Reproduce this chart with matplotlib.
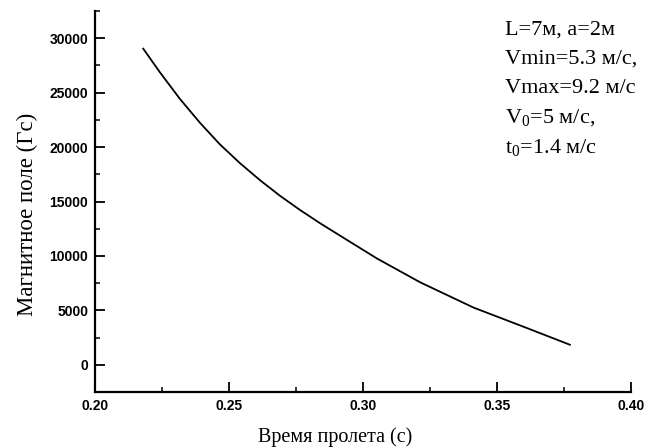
import numpy as np
import matplotlib
matplotlib.use("Agg")
import matplotlib.pyplot as plt
from matplotlib.ticker import MultipleLocator, FormatStrFormatter

# =========================
# DATA
# =========================
flight_time = [0.2180, 0.2243, 0.2317, 0.2392, 0.2466, 0.2541, 0.2616, 0.2690,
               0.2765, 0.2840, 0.2908, 0.3051, 0.3213, 0.3412, 0.3611, 0.3772]
field_gs = [29040, 26840, 24420, 22220, 20250, 18520, 16950, 15530,
            14220, 13000, 11960, 9780, 7580, 5260, 3380, 1840]

x_ticks = [0.20, 0.25, 0.30, 0.35, 0.40]
y_ticks = [0, 5000, 10000, 15000, 20000, 25000, 30000]

params_lines = [
    "L=7м, a=2м",
    "Vmin=5.3 м/с,",
    "Vmax=9.2 м/с",
    r"V$_\mathregular{0}$=5 м/с,",
    r"t$_\mathregular{0}$=1.4 м/с",
]

# =========================
# STYLE
# =========================
plt.rcParams["mathtext.fontset"] = "custom"
plt.rcParams["mathtext.rm"] = "Liberation Serif"
serif = ["Liberation Serif", "DejaVu Serif"]
sans = ["Liberation Sans", "DejaVu Sans"]

fig = plt.figure(figsize=(6.49, 4.48), dpi=100)
ax = fig.add_axes([0.1464, 0.125, 0.8259, 0.8504])

ax.plot(flight_time, field_gs, color="black", lw=1.3)

ax.set_xlim(0.20, 0.40)
ax.set_ylim(-2500, 32500)
ax.set_xticks(x_ticks)
ax.set_yticks(y_ticks)
ax.xaxis.set_minor_locator(MultipleLocator(0.025))
ax.yaxis.set_minor_locator(MultipleLocator(2500))
ax.xaxis.set_major_formatter(FormatStrFormatter("%.2f"))

for s in ["top", "right"]:
    ax.spines[s].set_visible(False)
for s in ["left", "bottom"]:
    ax.spines[s].set_linewidth(1.6)

ax.tick_params(which="major", direction="in", length=7, width=1.3, pad=5)
ax.tick_params(which="minor", direction="in", length=3.5, width=1.1)
for lab in ax.get_xticklabels() + ax.get_yticklabels():
    lab.set_family(sans)
    lab.set_fontweight("bold")
    lab.set_fontsize(10)

ax.set_xlabel("Время пролета (с)", family=serif, fontsize=14.5)
ax.set_ylabel("Магнитное поле (Гс)", family=serif, fontsize=16.5)
ax.xaxis.set_label_coords(0.448, -0.093)
ax.yaxis.set_label_coords(-0.106, 0.466)

# parameter block in the top-right corner
for i, line in enumerate(params_lines):
    fig.text(0.778, 0.934 - i * 0.066, line, family=serif, fontsize=16,
             va="center", ha="left")

fig.savefig("out.png", dpi=100)
